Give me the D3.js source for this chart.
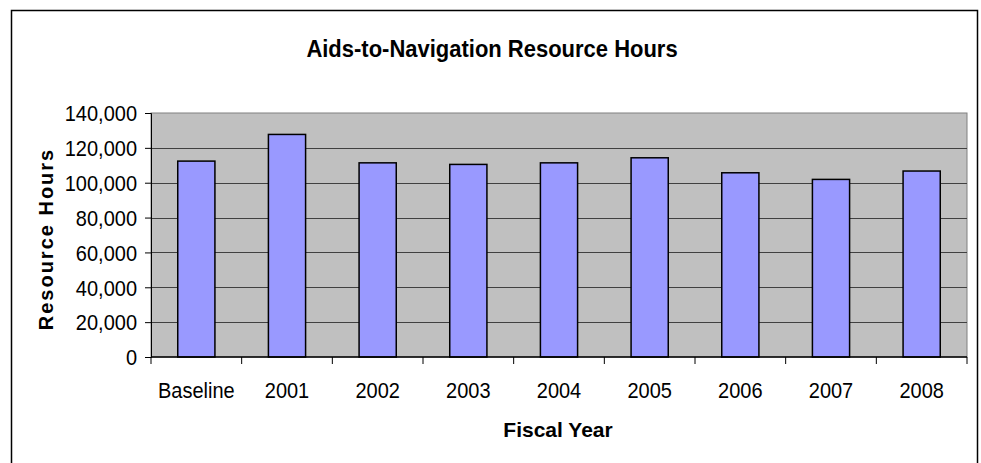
<!DOCTYPE html>
<html>
<head>
<meta charset="utf-8">
<script src="https://cdn.jsdelivr.net/npm/d3@7"></script>
<style>
  body { margin: 0; background: #fff; }
  text { font-family: "Liberation Sans", Arial, sans-serif; fill: #000; }
</style>
</head>
<body>
<svg id="chart"></svg>
<script>
// data
const categories = ['Baseline', '2001', '2002', '2003', '2004', '2005', '2006', '2007', '2008'];
const hours = [112400, 127700, 111400, 110500, 111400, 114300, 105700, 101900, 106700];
const yTicks = [0, 20000, 40000, 60000, 80000, 100000, 120000, 140000];

const width = 981, height = 463;
const margin = { top: 113, right: 14, bottom: 106, left: 151 };
const plotW = width - margin.left - margin.right;
const plotH = height - margin.top - margin.bottom;
const stretch = 1.12; // the labels in the picture are a bit taller than plain Arial

const svg = d3.select('#chart').attr('width', width).attr('height', height);

// outer chart border
svg.append('rect')
  .attr('x', 11.5).attr('y', 10.5)
  .attr('width', 966).attr('height', 470)
  .attr('fill', 'none').attr('stroke', '#000').attr('stroke-width', 1.5);

const g = svg.append('g').attr('transform', `translate(${margin.left},${margin.top})`);

const x = d3.scaleBand().domain(categories).range([0, plotW]).paddingInner(0.59).paddingOuter(0.295);
const y = d3.scaleLinear().domain([0, 140000]).range([plotH, 0]);

// plot background
g.append('rect')
  .attr('width', plotW).attr('height', plotH)
  .attr('fill', '#c0c0c0').attr('stroke', '#808080').attr('stroke-width', 1);

// gridlines
g.selectAll('.grid')
  .data(yTicks.filter(d => d > 0 && d < 140000))
  .enter()
  .append('line')
  .attr('x1', 0).attr('x2', plotW)
  .attr('y1', d => Math.round(y(d)) + 0.5).attr('y2', d => Math.round(y(d)) + 0.5)
  .attr('stroke', '#404040').attr('stroke-width', 1);

// bars
g.selectAll('.bar')
  .data(hours)
  .enter()
  .append('rect')
  .attr('x', (d, i) => x(categories[i]))
  .attr('y', d => y(d))
  .attr('width', x.bandwidth())
  .attr('height', d => plotH - y(d))
  .attr('fill', '#9999ff').attr('stroke', '#000').attr('stroke-width', 1.5);

// y axis
const yAxis = d3.axisLeft(y).tickValues(yTicks).tickSize(6).tickPadding(8)
  .tickFormat(d3.format(','));
const ya = g.append('g').call(yAxis);
ya.select('.domain').attr('stroke', '#000');
ya.selectAll('line').attr('stroke', '#000');
ya.selectAll('text').attr('font-size', 20).attr('dy', '0.35em')
  .attr('transform', `scale(1,${stretch})`);

// x axis: ticks at category boundaries
const xa = g.append('g').attr('transform', `translate(0,${plotH})`);
xa.append('line').attr('x1', 0).attr('x2', plotW).attr('stroke', '#000').attr('stroke-width', 1.5);
xa.selectAll('.xt')
  .data(d3.range(categories.length + 1))
  .enter()
  .append('line')
  .attr('x1', i => i * x.step()).attr('x2', i => i * x.step())
  .attr('y1', 0).attr('y2', 7)
  .attr('stroke', '#000');
xa.selectAll('.xl')
  .data(categories)
  .enter()
  .append('text')
  .attr('transform', d => `translate(${x(d) + x.bandwidth() / 2},41) scale(1,${stretch})`)
  .attr('text-anchor', 'middle')
  .attr('font-size', 20)
  .text(d => d);

// titles
svg.append('text')
  .attr('transform', 'translate(492,57) scale(1,1.08)')
  .attr('text-anchor', 'middle')
  .attr('font-size', 22).attr('font-weight', 'bold')
  .text('Aids-to-Navigation Resource Hours');

svg.append('text')
  .attr('x', margin.left + plotW / 2 - 1).attr('y', 437)
  .attr('text-anchor', 'middle')
  .attr('font-size', 21).attr('font-weight', 'bold')
  .text('Fiscal Year');

svg.append('text')
  .attr('transform', `translate(53,${margin.top + plotH / 2 + 4}) rotate(-90)`)
  .attr('text-anchor', 'middle')
  .attr('font-size', 20).attr('font-weight', 'bold')
  .attr('letter-spacing', 2)
  .text('Resource Hours');
</script>
</body>
</html>
